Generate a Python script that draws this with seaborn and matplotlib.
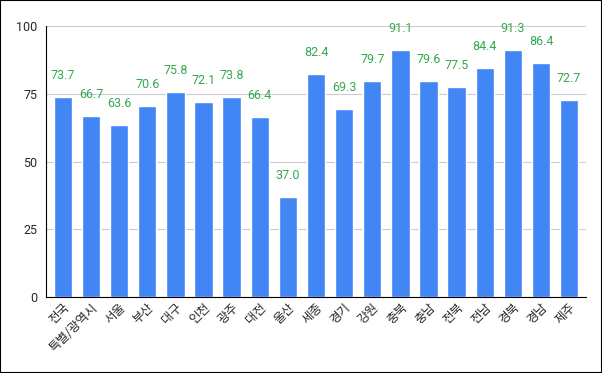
import pandas as pd
import numpy as np
import seaborn as sns
import matplotlib.pyplot as plt

regions = ["전국", "특별/광역시", "서울", "부산", "대구", "인천", "광주", "대전", "울산", "세종",
           "경기", "강원", "충북", "충남", "전북", "전남", "경북", "경남", "제주"]
values = [73.7, 66.7, 63.6, 70.6, 75.8, 72.1, 73.8, 66.4, 37.0, 82.4,
          69.3, 79.7, 91.1, 79.6, 77.5, 84.4, 91.3, 86.4, 72.7]

sns.set_style("white")
plt.rcParams['font.family'] = ['Noto Sans CJK KR', 'DejaVu Sans']

df = pd.DataFrame({"region": regions, "value": values})

fig = plt.figure(figsize=(6.02, 3.73), dpi=100)
ax = fig.add_axes([0.0764, 0.204, 0.897, 0.726])
sns.barplot(data=df, x="region", y="value", color="#4285F4", saturation=1,
            width=0.65, ax=ax)

for i, v in enumerate(values):
    ax.text(i, v + 5.5, f"{v:.1f}", ha="center", va="bottom", color="#34A853", fontsize=9,
            family=['Roboto', 'DejaVu Sans'])

ax.set_ylim(0, 100)
ax.set_yticks([0, 25, 50, 75, 100])
ax.set_xlim(-0.6, len(regions) - 0.4)
ax.grid(axis="y", color="#cccccc", linewidth=0.8)
ax.set_axisbelow(True)
for s in ["top", "right"]:
    ax.spines[s].set_visible(False)
ax.spines["left"].set_color("black")
ax.spines["bottom"].set_color("black")
ax.set_xlabel("")
ax.set_ylabel("")
ax.tick_params(axis="y", labelsize=9, length=0, pad=6)
ax.tick_params(axis="x", length=0, pad=3)
plt.setp(ax.get_xticklabels(), rotation=45, ha="right", rotation_mode="anchor", fontsize=9)
for lab in ax.get_yticklabels():
    lab.set_family(['Roboto', 'DejaVu Sans'])

fig.patches.append(plt.Rectangle((0, 0), 1, 1, transform=fig.transFigure, fill=False,
                                 edgecolor="black", linewidth=1.5))
fig.savefig("out.png", dpi=100)
